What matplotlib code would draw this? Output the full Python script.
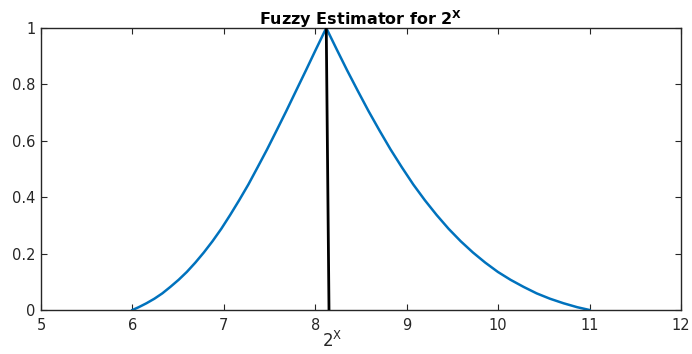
import matplotlib
matplotlib.use('Agg')
import matplotlib.pyplot as plt

plt.rcParams['font.family'] = ['DejaVu Sans']
plt.rcParams['mathtext.fontset'] = 'dejavusans'

# membership curve of the fuzzy estimator
left_x = [6.0, 6.069, 6.154, 6.240, 6.327, 6.415, 6.505, 6.595, 6.688, 6.781,
          6.876, 6.972, 7.069, 7.167, 7.268, 7.369, 7.472, 7.576, 7.682, 7.789,
          7.898, 8.008, 8.12]
left_y = [0.0, 0.010, 0.024, 0.040, 0.059, 0.082, 0.107, 0.135, 0.168, 0.204,
          0.244, 0.288, 0.337, 0.389, 0.445, 0.506, 0.569, 0.636, 0.705, 0.777,
          0.850, 0.925, 1.0]
right_x = [8.12, 8.233, 8.348, 8.465, 8.583, 8.703, 8.824, 8.947, 9.072, 9.199,
           9.327, 9.458, 9.590, 9.724, 9.859, 9.997, 10.136, 10.278, 10.421,
           10.567, 10.714, 10.864, 11.0]
right_y = [1.0, 0.925, 0.850, 0.777, 0.705, 0.636, 0.569, 0.506, 0.445, 0.389,
           0.337, 0.288, 0.244, 0.204, 0.168, 0.135, 0.107, 0.082, 0.059,
           0.040, 0.024, 0.010, 0.0]

# estimate marker line
est_x = [8.12, 8.15]
est_y = [1.0, 0.0]

x_ticks = [5, 6, 7, 8, 9, 10, 11, 12]
y_ticks = [0, 0.2, 0.4, 0.6, 0.8, 1]
y_labels = ['0', '0.2', '0.4', '0.6', '0.8', '1']

fig = plt.figure(figsize=(6.92, 3.54), dpi=100)
ax = fig.add_axes([41 / 692, 1 - 310 / 354, 640 / 692, 282 / 354])

ax.plot(left_x + right_x[1:], left_y + right_y[1:], color='#0072BD', linewidth=1.8)
ax.plot(est_x, est_y, color='black', linewidth=2.0, zorder=3)

ax.set_xlim(5, 12)
ax.set_ylim(0, 1)
ax.set_xticks(x_ticks)
ax.set_xticklabels([str(t) for t in x_ticks])
ax.set_yticks(y_ticks)
ax.set_yticklabels(y_labels)

dark = '#262626'
for s in ax.spines.values():
    s.set_color(dark)
    s.set_linewidth(1.0)
ax.tick_params(direction='in', length=4, width=0.8, colors=dark, labelsize=10.5,
               top=True, right=True)
ax.tick_params(axis='x', pad=6)
ax.tick_params(axis='y', pad=4)

ax.set_title(r'Fuzzy Estimator for $\mathbf{2^{X}}$', fontsize=11.5,
             fontweight='bold', pad=2)
ax.set_xlabel(r'$\mathrm{2^{X}}$', fontsize=12, color=dark)
ax.xaxis.set_label_coords((332 - 41) / 640, -0.075)

fig.savefig('out.png', dpi=100)
